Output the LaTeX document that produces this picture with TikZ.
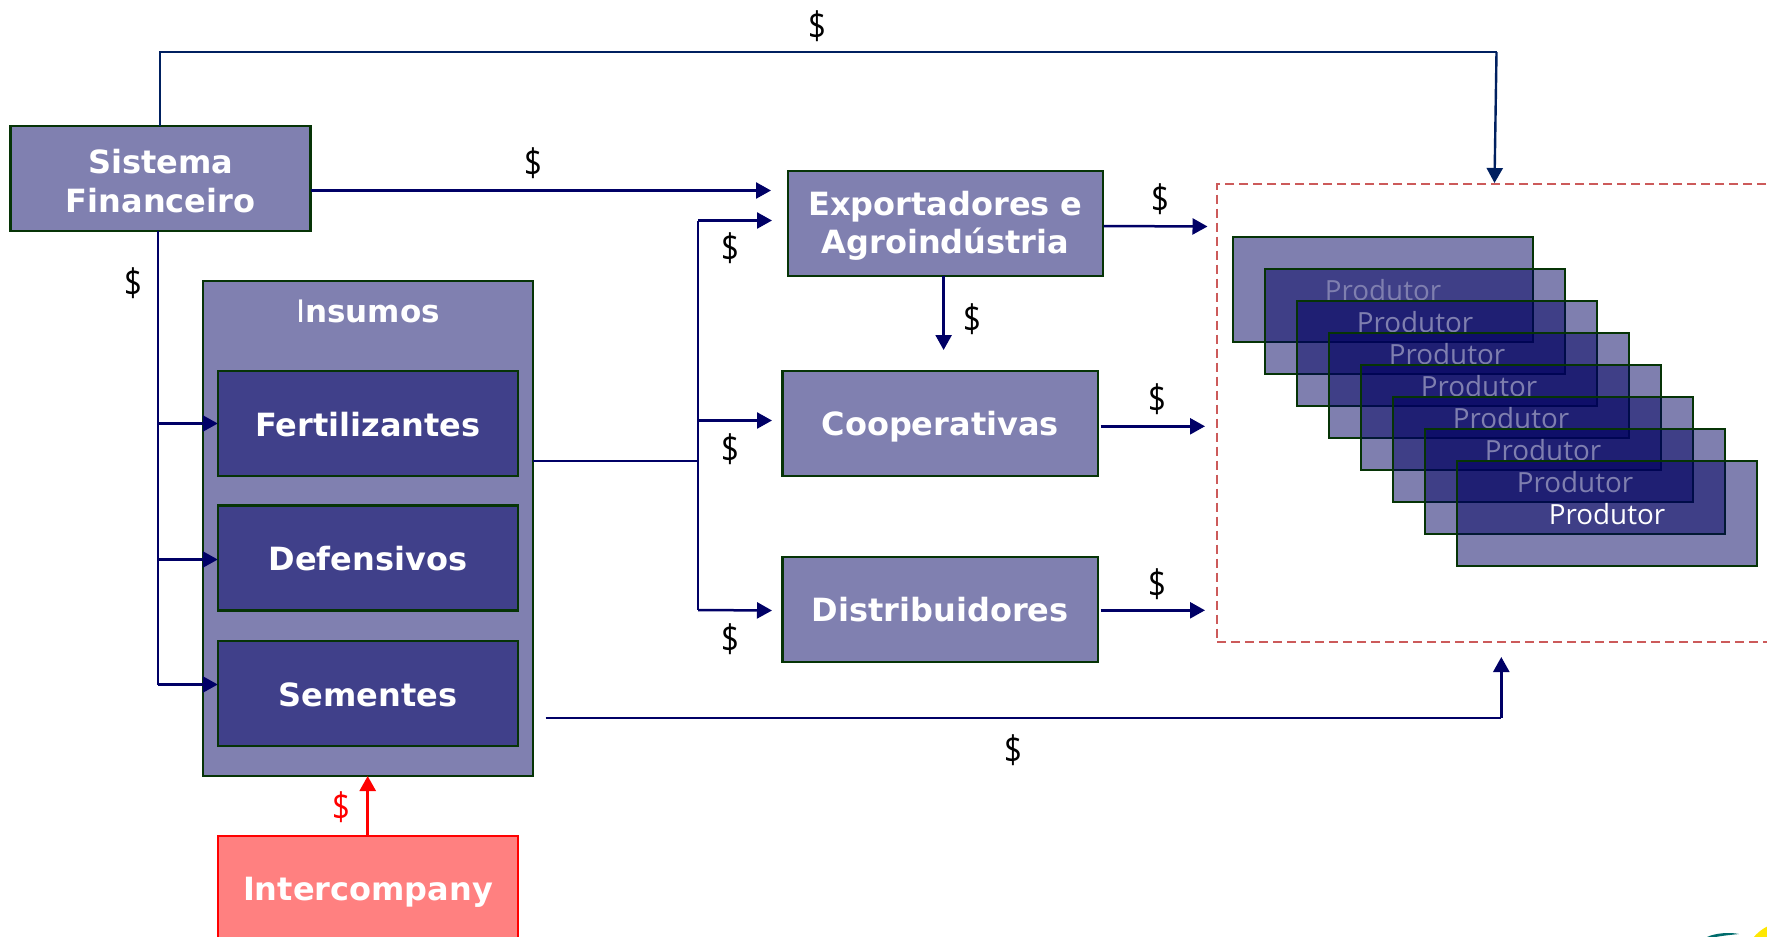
\documentclass[tikz,border=0pt]{standalone}
\usepackage{graphicx}
\usepackage{fontspec}
\setmainfont{DejaVu Sans}
\newfontfamily\labelfont{Open Sans}
\usetikzlibrary{arrows.meta}
\definecolor{boxfill}{HTML}{8080B0}
\definecolor{innerfill}{HTML}{40408A}
\definecolor{boxline}{HTML}{063406}
\definecolor{flow}{HTML}{000066}
\definecolor{topflow}{HTML}{002060}
\definecolor{dashred}{HTML}{CC5A5A}
\definecolor{interfill}{HTML}{FF8080}
\definecolor{flowfillc}{HTML}{000060}
\newcommand{\moneysign}{\scalebox{.82}[1]{\$}}
\tikzset{
  bigbox/.style={draw=boxline,line width=2.1pt,fill=boxfill,text=white,inner sep=0pt,outer sep=0pt,
    align=center,font=\fontsize{32}{38.5}\selectfont\bfseries},
  onerow/.style={text height=25pt,text depth=0pt},
  outerbox/.style={bigbox,minimum width=315.5pt,minimum height=105pt},
  innerbox/.style={bigbox,onerow,fill=innerfill,minimum width=300.5pt,minimum height=105pt},
  prodbox/.style={draw=boxline,line width=2pt,fill=flowfillc,fill opacity=.5,draw opacity=1,text opacity=1,
    text=white,inner sep=0pt,outer sep=0pt,minimum width=300.5pt,minimum height=104.5pt,
    font=\labelfont\fontsize{27.8}{32}\selectfont},
  money/.style={font=\labelfont\fontsize{38}{42}\selectfont,text=black,inner sep=0pt},
  flowline/.style={draw=flow,line width=2pt},
  flowarrow/.style={draw=flow,line width=2.5pt,-{Triangle[length=15pt,width=16pt]}},
}
\begin{document}
\begin{tikzpicture}[x=1pt,y=-1pt]
\clip (0,0) rectangle (1767,937);
% dashed producer zone
\coordinate (zoneTL) at (1216.7,184);
\coordinate (zoneBL) at (1216.7,642);
\coordinate (zoneTR) at (1780,184);
\coordinate (zoneBR) at (1780,642);
\draw[dashred,line width=1.6pt,dash pattern=on 9pt off 5pt] (zoneTR) -- (zoneTL) -- (zoneBL) -- (zoneBR);
% main boxes
\node[bigbox,minimum width=300pt,minimum height=105pt] (sf) at (160.5,178.5) {\rule{0pt}{29pt}Sistema\\Financeiro};
\node[bigbox,minimum width=330pt,minimum height=495pt] (ins) at (368,528.5) {};
\node[text=white,inner sep=0pt,font=\fontsize{31}{36}\selectfont\bfseries] (institle) at (368,311) {{\mdseries I}nsumos};
\node[innerbox] (fert) at (368,423.5) {Fertilizantes};
\node[innerbox] (def) at (368,558) {Defensivos};
\node[innerbox] (sem) at (368,693.5) {Sementes};
\node[bigbox,draw=red,fill=interfill,minimum width=300.5pt,minimum height=130pt] (inter) at (368,900.7) {};
\node[text=white,inner sep=0pt,font=\fontsize{32}{38}\selectfont\bfseries] (intertxt) at (368,892) {Intercompany};
\node[outerbox] (exp) at (945.5,223.2) {\rule{0pt}{29pt}Exportadores e\\Agroindústria};
\node[outerbox,onerow] (coop) at (940.2,423.2) {Cooperativas};
\node[outerbox,onerow] (dist) at (940.2,609.2) {Distribuidores};
% producer stack
\foreach \i [evaluate=\i as \px using 1383+32*\i, evaluate=\i as \py using 289.6+32*\i] in {0,...,7}
  \node[prodbox] (prod\i) at (\px,\py) {\raisebox{-1.5pt}{Produtor}};
% routing points
\coordinate (topL) at (160.4,52);
\coordinate (topR) at (1496.5,52);
\coordinate (topTip) at (1494.5,183);
\coordinate (sfOut) at (310.5,190.5);
\coordinate (expIn) at (771,190.5);
\coordinate (sfDown) at (158,231);
\coordinate (trunkEnd) at (158,684.5);
\coordinate (fertJ) at (158,423.5);
\coordinate (defJ) at (158,559.5);
\coordinate (semJ) at (158,684.5);
\coordinate (hub) at (698,460.5);
\coordinate (hubT) at (698,220.5);
\coordinate (hubM) at (698,420.5);
\coordinate (hubB) at (698,610);
\coordinate (tipT) at (772,220.5);
\coordinate (tipM) at (772,420.5);
\coordinate (tipB) at (772,610.5);
\coordinate (insOut) at (533,460.5);
\coordinate (expOut) at (1103.5,226);
\coordinate (expTip) at (1207.5,226.5);
\coordinate (coopOut) at (1100.7,426.3);
\coordinate (coopTip) at (1205,426.3);
\coordinate (distOut) at (1100.7,610.3);
\coordinate (distTip) at (1205,610.3);
\coordinate (downIn) at (943.6,275.7);
\coordinate (downTip) at (943.6,350);
\coordinate (botL) at (545.5,717.5);
\coordinate (botR) at (1501.3,717.5);
\coordinate (botTip) at (1501.3,657);
\coordinate (redS) at (367.7,835.7);
\coordinate (redT) at (367.7,776);
% connectors
\draw[draw=topflow,line width=2pt] (topL |- sf.north) -- (topL) -- (topR);
\draw[draw=topflow,line width=2.4pt,-{Triangle[length=15pt,width=16pt]}] (topR) -- (topTip);
\draw[flowarrow] (sfOut) -- (expIn);
\draw[flowline] (sfDown) -- (trunkEnd);
\draw[flowarrow] (fertJ) -- (fertJ -| fert.west);
\draw[flowarrow] (defJ) -- (defJ -| def.west);
\draw[flowarrow] (semJ) -- (semJ -| sem.west);
\draw[flowline] (insOut) -- (hub);
\draw[flowline] (hubT) -- (hubB);
\draw[flowarrow] (hubT) -- (tipT);
\draw[flowarrow] (hubM) -- (tipM);
\draw[flowarrow] (hubB) -- (tipB);
\draw[flowarrow] (expOut) -- (expTip);
\draw[flowarrow] (coopOut) -- (coopTip);
\draw[flowarrow] (distOut) -- (distTip);
\draw[flowarrow] (downIn) -- (downTip);
\draw[flowline] (botL) -- (botR);
\draw[flowarrow] (botR) -- (botTip);
\draw[draw=red,line width=2.6pt,-{Triangle[length=15pt,width=16pt]}] (redS) -- (redT);
% money labels
\node[money] (m1) at (817,26) {\moneysign};
\node[money] (m2) at (533,163) {\moneysign};
\node[money] (m3) at (133,282.7) {\moneysign};
\node[money] (m4) at (730,248) {\moneysign};
\node[money] (m5) at (730,449) {\moneysign};
\node[money] (m6) at (730,639) {\moneysign};
\node[money] (m7) at (972,319) {\moneysign};
\node[money] (m8) at (1160,199) {\moneysign};
\node[money] (m9) at (1157.5,399) {\moneysign};
\node[money] (m10) at (1157,584) {\moneysign};
\node[money] (m11) at (1013,750.5) {\moneysign};
\node[money,text=red] (m12) at (341.7,807) {\moneysign};
% logo fragment at the corner
\fill[teal!85!black] (1707,937) .. controls (1715,933) and (1730,932) .. (1739,934) .. controls (1730,935) and (1718,936) .. (1712,938) -- cycle;
\fill[yellow!90!orange] (1753,938) .. controls (1757,933) and (1762,929) .. (1768,926) -- (1768,938) -- cycle;
\end{tikzpicture}
\end{document}
